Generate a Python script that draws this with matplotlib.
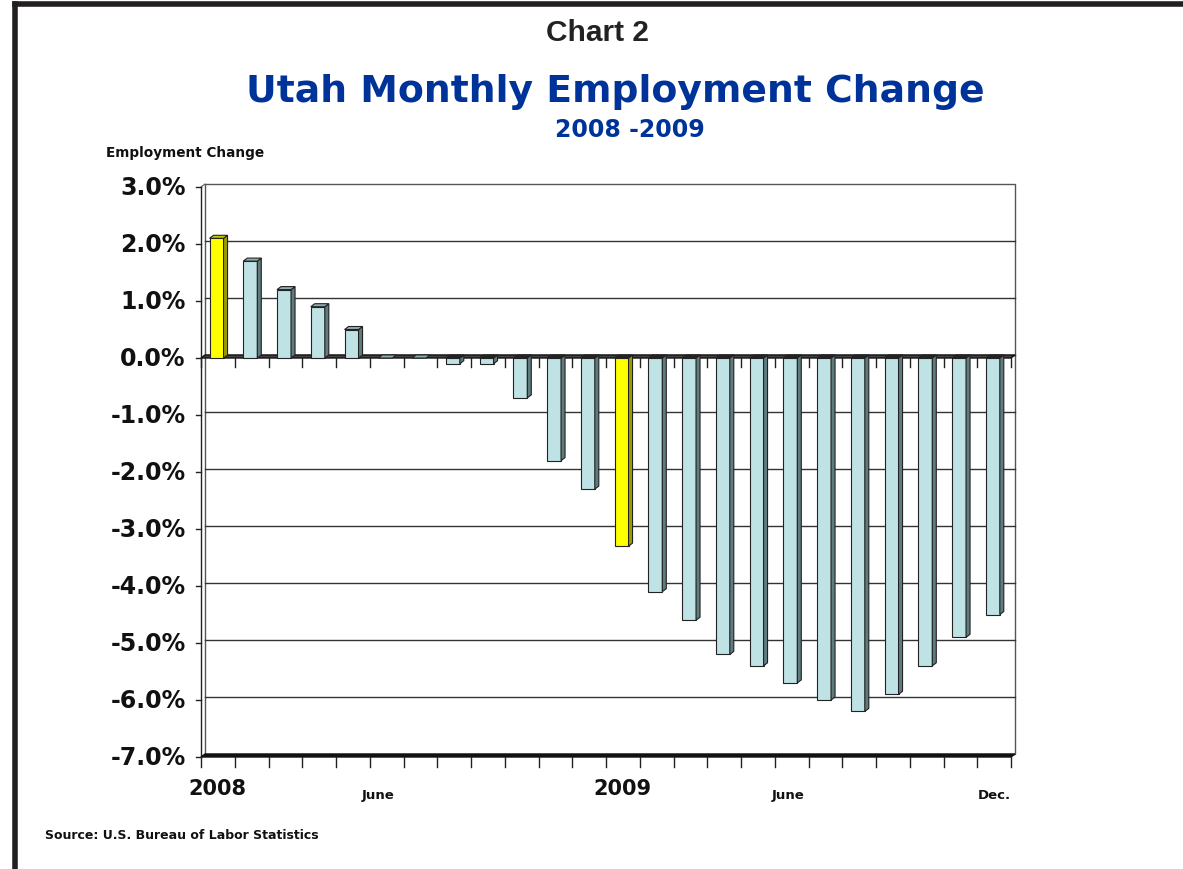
import numpy as np
import matplotlib
matplotlib.use("Agg")
import matplotlib.pyplot as plt
from matplotlib.patches import Polygon, Rectangle
from matplotlib.lines import Line2D

# monthly employment change, Jan 2008 - Dec 2009 (percent)
months = ["Jan 08", "Feb 08", "Mar 08", "Apr 08", "May 08", "Jun 08",
          "Jul 08", "Aug 08", "Sep 08", "Oct 08", "Nov 08", "Dec 08",
          "Jan 09", "Feb 09", "Mar 09", "Apr 09", "May 09", "Jun 09",
          "Jul 09", "Aug 09", "Sep 09", "Oct 09", "Nov 09", "Dec 09"]
change = [2.1, 1.7, 1.2, 0.9, 0.5, 0.0, 0.0, -0.1, -0.1, -0.7, -1.8, -2.3,
          -3.3, -4.1, -4.6, -5.2, -5.4, -5.7, -6.0, -6.2, -5.9, -5.4, -4.9, -4.5]
highlight = [0, 12]  # january bars in yellow

xlabel_pos = [0, 4.75, 12, 16.9, 23]
xlabel_txt = ["2008", "June", "2009", "June", "Dec."]
xlabel_big = [True, False, True, False, False]

yticks = np.arange(-7, 4, 1)

blue_face, blue_side, blue_top = "#bfe2e5", "#5f7b7d", "#8fb0b2"
yel_face, yel_side, yel_top = "#ffff00", "#9c9c00", "#c8c800"
edge = "#222222"

fig = plt.figure(figsize=(11.83, 8.70), dpi=100)
W, H = 1183, 870
x0px, x1px, ytop, ybot = 201, 1011, 188, 758
ax = fig.add_axes([x0px / W, 1 - ybot / H, (x1px - x0px) / W, (ybot - ytop) / H])
ax.set_xlim(-0.5, len(change) - 0.5)
ax.set_ylim(-7, 3)
ax.axis("off")

# 3d depth in data units (about 4px right, 3px up)
dx = 4 / ((x1px - x0px) / len(change))
dy = 3 / ((ybot - ytop) / 10)
xa, xb = -0.5, len(change) - 0.5

# back wall and gridlines
ax.add_patch(Rectangle((xa + dx, -7 + dy), xb - xa, 10, fill=False,
                       ec="#555555", lw=1.0, clip_on=False, zorder=1))
for yv in yticks[1:-1]:
    ax.add_line(Line2D([xa + dx, xb + dx], [yv + dy, yv + dy], color="#333333",
                       lw=1.0, clip_on=False, zorder=1))
# left side wall edges
ax.add_line(Line2D([xa, xa], [-7, 3], color="#222222", lw=1.0, clip_on=False, zorder=2))
ax.add_line(Line2D([xa, xa + dx], [3, 3 + dy], color="#555555", lw=0.8, clip_on=False, zorder=2))

# floors at 0 and at the bottom
for yv, fc in [(0, "#444444"), (-7, "#111111")]:
    ax.add_patch(Polygon([(xa, yv), (xb, yv), (xb + dx, yv + dy), (xa + dx, yv + dy)],
                         closed=True, fc=fc, ec="#111111", lw=1.0, clip_on=False, zorder=2))

# y ticks and labels
for yv in yticks:
    ax.add_line(Line2D([xa - 0.14, xa], [yv, yv], color="#222222", lw=1.0,
                       clip_on=False, zorder=2))
    ax.text(xa - 0.45, yv, f"{yv:.1f}%", ha="right", va="center", fontsize=17,
            fontweight="bold", family="DejaVu Sans", color="#111111")

# x ticks at category borders (under zero line and under bottom floor)
for k in range(len(change) + 1):
    xv = xa + k
    ax.add_line(Line2D([xv, xv], [0, -0.15], color="#222222", lw=1.0,
                       clip_on=False, zorder=2))
    ax.add_line(Line2D([xv, xv], [-7, -7.17], color="#222222", lw=1.0,
                       clip_on=False, zorder=2))

# bars
bw = 14 / ((x1px - x0px) / len(change))
for i, v in enumerate(change):
    if i in highlight:
        fc, sc, tc = yel_face, yel_side, yel_top
    else:
        fc, sc, tc = blue_face, blue_side, blue_top
    xl = i - bw / 2 - dx / 3
    xr = xl + bw
    top = max(v, 0)
    low = min(v, 0)
    if v != 0:
        ax.bar(xl, v, width=bw, align="edge", color=fc, edgecolor=edge,
               linewidth=0.8, zorder=4)
        ax.add_patch(Polygon([(xr, low), (xr + dx, low + dy), (xr + dx, top + dy), (xr, top)],
                             closed=True, fc=sc, ec=edge, lw=0.8, zorder=4))
    ax.add_patch(Polygon([(xl, top), (xr, top), (xr + dx, top + dy), (xl + dx, top + dy)],
                         closed=True, fc=tc if v >= 0 else "#222222", ec=edge, lw=0.8, zorder=4))

# x labels
for pos, txt, big in zip(xlabel_pos, xlabel_txt, xlabel_big):
    if big:
        ax.text(pos, -7.36, txt, ha="center", va="top", fontsize=15,
                fontweight="bold", family="DejaVu Sans", color="#111111")
    else:
        ax.text(pos, -7.55, txt, ha="center", va="top", fontsize=9.5,
                fontweight="bold", family="DejaVu Sans", color="#111111")

# titles and notes
fig.text(598 / W, 1 - 33 / H, "Chart 2", ha="center", va="center", fontsize=21.5,
         fontweight="bold", family="Liberation Sans", color="#222222")
fig.text(615 / W, 1 - 92 / H, "Utah Monthly Employment Change", ha="center", va="center",
         fontsize=27.2, fontweight="bold", family="DejaVu Sans", color="#003399")
fig.text(630 / W, 1 - 130 / H, "2008 -2009", ha="center", va="center", fontsize=17,
         fontweight="bold", family="DejaVu Sans", color="#003399")
fig.text(106 / W, 1 - 153 / H, "Employment Change", ha="left", va="center", fontsize=9.8,
         fontweight="bold", family="DejaVu Sans", color="#111111")
fig.text(45 / W, 1 - 836 / H, "Source: U.S. Bureau of Labor Statistics", ha="left",
         va="center", fontsize=9, fontweight="bold", family="DejaVu Sans", color="#111111")

# outer frame (top and left edges)
fig.add_artist(Line2D([15 / W, 1], [1 - 5 / H, 1 - 5 / H], transform=fig.transFigure,
                      color="#231f20", lw=4))
fig.add_artist(Line2D([15 / W, 15 / W], [0, 1 - 5 / H], transform=fig.transFigure,
                      color="#231f20", lw=4))

fig.savefig("out.png", dpi=100)
